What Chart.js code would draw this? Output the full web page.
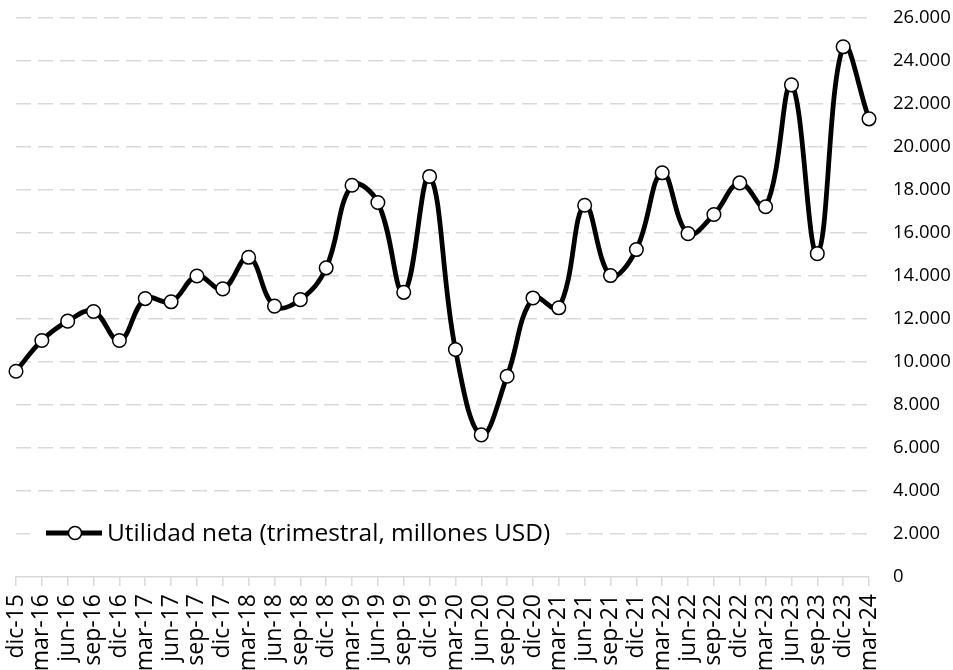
<!DOCTYPE html>
<html>
<head>
<meta charset="utf-8">
<script src="https://cdn.jsdelivr.net/npm/chart.js@4.4.1/dist/chart.umd.min.js"></script>
<style>
  html, body { margin: 0; padding: 0; background: #fff; }
  #wrap { width: 953px; height: 670px; }
</style>
</head>
<body>
<div id="wrap"><canvas id="utilidadChart"></canvas></div>
<script>
// quarters shown on the x axis
var quarters = [
    'dic-15', 'mar-16', 'jun-16', 'sep-16', 'dic-16', 'mar-17', 'jun-17', 'sep-17', 'dic-17',
    'mar-18', 'jun-18', 'sep-18', 'dic-18', 'mar-19', 'jun-19', 'sep-19', 'dic-19',
    'mar-20', 'jun-20', 'sep-20', 'dic-20', 'mar-21', 'jun-21', 'sep-21', 'dic-21',
    'mar-22', 'jun-22', 'sep-22', 'dic-22', 'mar-23', 'jun-23', 'sep-23', 'dic-23', 'mar-24'
];

// net income per quarter, millions USD
var utilidadNeta = [
    9570, 11000, 11900, 12350, 11000, 12950, 12800, 14000, 13400,
    14870, 12600, 12900, 14380, 18220, 17420, 13240, 18630,
    10580, 6610, 9340, 12980, 12520, 17290, 14020, 15230,
    18800, 15970, 16860, 18330, 17220, 22890, 15040, 24660, 21310
];

var seriesLabel = 'Utilidad neta (trimestral, millones USD)';
var yMin = 0, yMax = 26000, yStep = 2000;

function fmtMiles(v) {
    return String(v).replace(/\B(?=(\d{3})+(?!\d))/g, '.');
}

// legend drawn inside the plot, bottom left, on a white patch
var insideLegend = {
    id: 'insideLegend',
    afterDatasetsDraw: function(chart) {
        var ds = chart.data.datasets[0];
        var ctx = chart.ctx;
        var y = 533;
        ctx.save();
        ctx.font = '24.5px "Open Sans"';
        var w = ctx.measureText(ds.label).width;
        ctx.fillStyle = '#ffffff';
        ctx.fillRect(30, y - 17, 107 + w + 12 - 30, 34);
        ctx.strokeStyle = ds.borderColor;
        ctx.lineWidth = ds.borderWidth;
        ctx.beginPath();
        ctx.moveTo(46, y);
        ctx.lineTo(102, y);
        ctx.stroke();
        ctx.beginPath();
        ctx.arc(75, y, 6.5, 0, Math.PI * 2);
        ctx.fillStyle = '#ffffff';
        ctx.fill();
        ctx.lineWidth = 1.5;
        ctx.stroke();
        ctx.fillStyle = '#000000';
        ctx.textBaseline = 'middle';
        ctx.fillText(ds.label, 107, y + 1);
        ctx.restore();
    }
};

var ctx = document.getElementById('utilidadChart').getContext('2d');
new Chart(ctx, {
    type: 'line',
    data: {
        labels: quarters,
        datasets: [{
            label: seriesLabel,
            data: utilidadNeta,
            borderColor: '#000000',
            borderWidth: 4.8,
            tension: 0.4,
            pointRadius: 6.8,
            pointBorderWidth: 1.5,
            pointBackgroundColor: '#ffffff',
            pointBorderColor: '#000000'
        }]
    },
    options: {
        responsive: true,
        maintainAspectRatio: false,
        animation: false,
        layout: { padding: { left: 16, top: 18, right: 0, bottom: 0 } },
        plugins: {
            legend: { display: false },
            tooltip: { enabled: false }
        },
        scales: {
            x: {
                offset: false,
                grid: {
                    drawOnChartArea: false,
                    drawTicks: true,
                    tickLength: 9,
                    color: '#d9d9d9',
                    lineWidth: 1.5
                },
                border: { color: '#d9d9d9', width: 1.5 },
                ticks: {
                    autoSkip: false,
                    minRotation: 90,
                    maxRotation: 90,
                    padding: 8,
                    color: '#000000',
                    font: { family: 'Open Sans', size: 23 }
                },
                afterFit: function(scale) { scale.height = 93; }
            },
            y: {
                position: 'right',
                min: yMin,
                max: yMax,
                grid: {
                    drawTicks: false,
                    lineWidth: 1.5,
                    color: function(c) { return c.tick && c.tick.value === 0 ? 'rgba(0,0,0,0)' : '#d9d9d9'; }
                },
                border: { display: false, dash: [15, 7] },
                ticks: {
                    stepSize: yStep,
                    padding: 24,
                    color: '#000000',
                    font: { family: 'Open Sans', size: 18.5 },
                    callback: function(v) { return fmtMiles(v); }
                },
                afterFit: function(scale) {
                    scale.width = 84;
                    // the label gap should not push the plot down
                    scale.paddingTop = 10;
                    scale.paddingBottom = 10;
                }
            }
        }
    },
    plugins: [insideLegend]
});
</script>
</body>
</html>
